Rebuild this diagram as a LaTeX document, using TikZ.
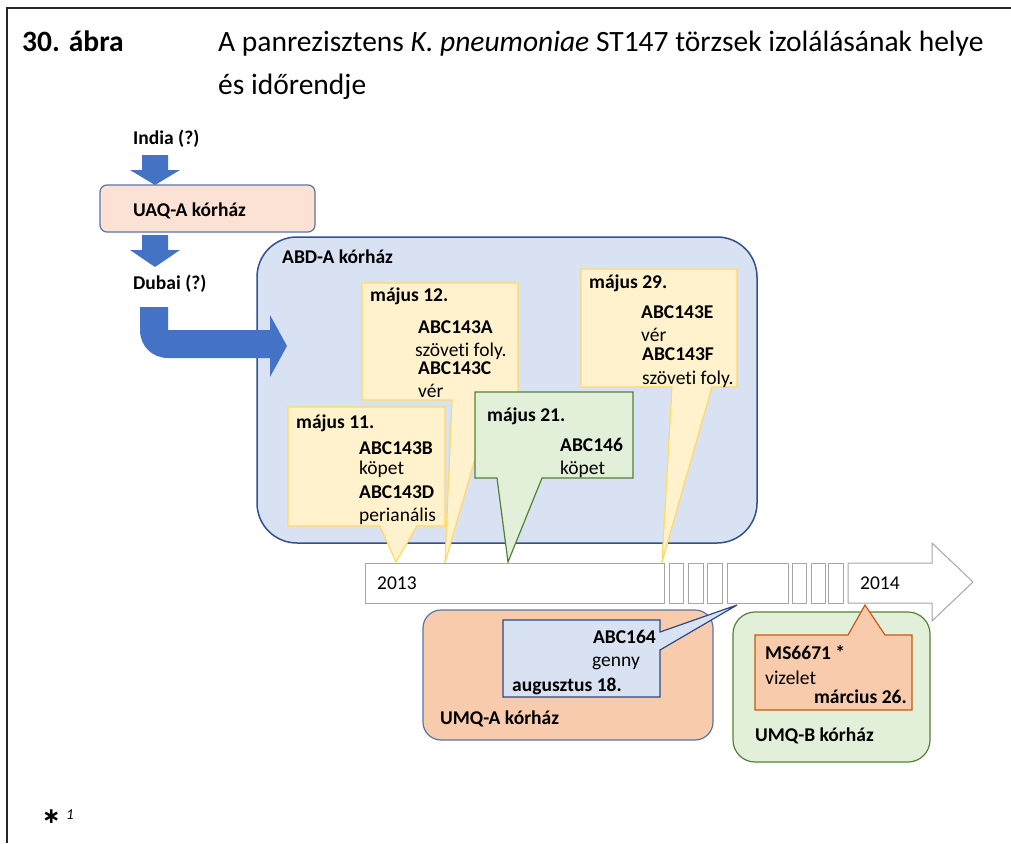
\documentclass[tikz,border=0pt]{standalone}
\usepackage{fontspec}
\setmainfont{Carlito}[Ligatures=NoCommon]
\newfontfamily\symfont{DejaVu Sans}
\definecolor{arrowblue}{HTML}{4472C4}
\definecolor{boxline}{HTML}{2F528F}
\definecolor{peachlight}{HTML}{FBE2D5}
\definecolor{peach}{HTML}{F8CBAD}
\definecolor{bluelight}{HTML}{D9E2F3}
\definecolor{yelfill}{HTML}{FFF2CC}
\definecolor{yelline}{HTML}{FFD966}
\definecolor{grnfill}{HTML}{E2F0D9}
\definecolor{grnline}{HTML}{548235}
\definecolor{orgline}{HTML}{C55A11}
\definecolor{barline}{HTML}{A6A6A6}
\begin{document}
\begin{tikzpicture}[x=1pt,y=-1pt,
  lbl/.style={anchor=base west, inner sep=0pt, font=\fontsize{19.5}{23}\selectfont},
  lblb/.style={lbl, font=\fontsize{19.5}{23}\selectfont\bfseries},
  lblbr/.style={lblb, anchor=base east},
  ttl/.style={anchor=base west, inner sep=0pt, font=\fontsize{29.5}{35}\selectfont},
  yelcall/.style={fill=yelfill, draw=yelline, line width=1.2pt},
  grncall/.style={fill=grnfill, draw=grnline, line width=1.2pt},
  segbox/.style={fill=white, draw=barline, line width=1pt},
]
\useasboundingbox (0,0) rectangle (1011,843);
\fill[white] (0,0) rectangle (1011,843);

% frame of the table cell
\draw[line width=1.5pt, black!85] (7,843) -- (7,8) -- (1011,8);

% heading
\node[ttl, font=\fontsize{29.5}{35}\selectfont\bfseries] (fignum) at (22,52) {30. ábra};
\node[ttl] (title1) at (218,52) {A panrezisztens \textit{K. pneumoniae} ST147 törzsek izolálásának helye};
\node[ttl] (title2) at (218,94) {és időrendje};

% origin chain
\node[lblb] (india) at (133,144) {India (?)};
\fill[arrowblue] (142,155) -- (168,155) -- (168,170) -- (180,170) -- (155,185) -- (130,170) -- (142,170) -- cycle;
\draw[fill=peachlight, draw=boxline!80, line width=1.2pt, rounded corners=7pt] (100,185) rectangle (315,232);
\node[lblb] (uaq) at (133,216) {UAQ-A kórház};
\fill[arrowblue] (142,235) -- (168,235) -- (168,250) -- (180,250) -- (155,267) -- (130,250) -- (142,250) -- cycle;
\node[lblb] (dubai) at (133,289) {Dubai (?)};

% ABD-A hospital
\draw[fill=bluelight, draw=boxline, line width=1.5pt, rounded corners=40pt] (257,237) rectangle (757,543);
\node[lblb] (abd) at (282,263) {ABD-A kórház};

% bent arrow into ABD-A
\fill[arrowblue] (140,307) -- (168,307) -- (168,330) -- (270,330) -- (270,315) -- (287,346)
  -- (270,377) -- (270,358) -- (168,358) .. controls (152,358) and (140,346) .. (140,330) -- cycle;

% May 12 callout
\draw[yelcall] (362,283) -- (518,283) -- (518,400) -- (492,400) -- (445,563) -- (452,400) -- (362,400) -- cycle;
\node[lblb] (m12) at (370,301) {május 12.};
\node[lblb] (a143a) at (418,333) {ABC143A};
\node[lbl] (a143as) at (415,356) {szöveti foly.};
\node[lblb] (a143c) at (418,374) {ABC143C};
\node[lbl] (a143cs) at (418,397) {vér};

% May 29 callout
\draw[yelcall] (581,269) -- (737,269) -- (737,387) -- (712,387) -- (662,562) -- (672,387) -- (581,387) -- cycle;
\node[lblb] (m29) at (589,288) {május 29.};
\node[lblb] (a143e) at (641,318) {ABC143E};
\node[lbl] (a143es) at (641,341) {vér};
\node[lblb] (a143f) at (642,360) {ABC143F};
\node[lbl] (a143fs) at (642,384) {szöveti foly.};

% May 21 callout
\draw[grncall] (475,392) -- (633,392) -- (633,478) -- (542,478) -- (508,562) -- (497,478) -- (475,478) -- cycle;
\node[lblb] (m21) at (487,421) {május 21.};
\node[lblb] (a146) at (560,451) {ABC146};
\node[lbl] (a146s) at (560,474) {köpet};

% May 11 callout
\draw[yelcall] (288,407) -- (445,407) -- (445,526) -- (417,526) -- (396,562) -- (380,526) -- (288,526) -- cycle;
\node[lblb] (m11) at (296,428) {május 11.};
\node[lblb] (a143b) at (359,454) {ABC143B};
\node[lbl] (a143bs) at (359,474) {köpet};
\node[lblb] (a143d) at (359,498) {ABC143D};
\node[lbl] (a143ds) at (359,521) {perianális};

% time line
\draw[segbox] (365,563) rectangle (664,603);
\draw[segbox] (669,563) rectangle (683,603);
\draw[segbox] (688,563) rectangle (703,603);
\draw[segbox] (707,563) rectangle (722,603);
\draw[segbox] (727,563) rectangle (788,603);
\draw[segbox] (792,563) rectangle (806,603);
\draw[segbox] (811,563) rectangle (825,603);
\draw[segbox] (828,563) rectangle (843,603);
\draw[segbox] (848,563) -- (932,563) -- (932,543) -- (973,582) -- (932,621) -- (932,603) -- (848,603) -- cycle;
\node[lbl] (y2013) at (377,589) {2013};
\node[lbl] (y2014) at (860,589) {2014};

% UMQ-A hospital
\draw[fill=peach, draw=boxline!80, line width=1.2pt, rounded corners=18pt] (423,610) rectangle (713,740);
\node[lblb] (umqa) at (440,724) {UMQ-A kórház};
\draw[fill=bluelight, draw=boxline!90!black, line width=1.2pt] (503,620) -- (660,620) -- (660,632) -- (737,605) -- (660,650) -- (660,697) -- (503,697) -- cycle;
\node[lblbr] (a164) at (656,643) {ABC164};
\node[lbl] (a164s) at (592,666) {genny};
\node[lblb] (aug18) at (512,691) {augusztus 18.};

% UMQ-B hospital
\draw[fill=grnfill, draw=grnline, line width=1.2pt, rounded corners=22pt] (733,612) rectangle (930,762);
\node[lblb] (umqb) at (755,741) {UMQ-B kórház};
\draw[fill=peach, draw=orgline, line width=1.2pt] (755,635) -- (848,635) -- (865,605) -- (885,635) -- (912,635) -- (912,710) -- (755,710) -- cycle;
\node[lblb] (ms) at (765,659) {MS6671 *};
\node[lbl] (mss) at (765,684) {vizelet};
\node[lblbr] (mar26) at (907,703) {március 26.};

% footnote
\node[anchor=base west, inner sep=0pt, font=\fontsize{22}{26}\selectfont\symfont\bfseries] (fnstar) at (42,823) {∗};
\node[anchor=base west, inner sep=0pt, font=\fontsize{15}{18}\selectfont\itshape] (fnnum) at (66,819) {1};
\end{tikzpicture}
\end{document}
